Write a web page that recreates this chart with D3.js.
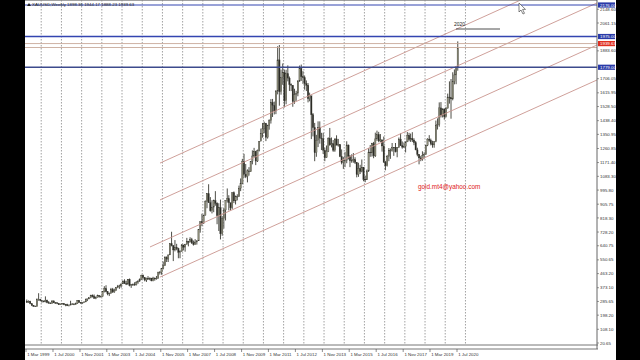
<!DOCTYPE html>
<html>
<head>
<meta charset="utf-8">
<script src="https://cdn.jsdelivr.net/npm/d3@7"></script>
<style>
  body { margin: 0; background: #000; }
  svg { display: block; }
  text { font-family: "Liberation Sans", "DejaVu Sans", sans-serif; }
</style>
</head>
<body>
<div id="chart"></div>
<script>
// Monthly gold candles (Mar 1999 .. Jul 2020)
const firstOpen = 287;

const monthHigh = [
  298,292,290,272,263,259,305,338,302,292,
  292,318,297,288,280,293,292,282,277,274,271,275,
  273,270,271,265,290,274,272,278,294,294,282,281,
  287,304,303,310,328,330,330,318,329,324,323,350,
  383,389,352,342,372,372,367,377,391,392,400,418,
  427,418,428,432,397,400,408,415,420,432,456,457,
  441,437,447,438,435,443,438,448,474,479,497,540,
  574,573,585,654,730,643,677,653,628,612,652,646,
  653,691,672,695,691,674,683,676,746,795,845,839,
  930,976,1033,951,931,935,989,918,912,935,829,881,
  931,1006,963,914,981,987,961,969,1024,1070,1195,1227,
  1162,1128,1142,1180,1249,1265,1246,1254,1308,1388,1424,1432,
  1424,1412,1447,1576,1577,1560,1632,1913,1921,1764,1803,1764,
  1763,1791,1720,1676,1665,1642,1629,1697,1790,1796,1754,1726,
  1695,1678,1617,1586,1487,1424,1348,1434,1434,1361,1361,1267,
  1280,1332,1392,1331,1315,1325,1345,1322,1287,1255,1206,1238,
  1307,1286,1219,1224,1232,1205,1175,1170,1157,1191,1143,1088,
  1127,1263,1283,1297,1303,1362,1375,1367,1353,1318,1337,1182,
  1220,1264,1261,1296,1270,1296,1270,1331,1357,1306,1299,1305,
  1366,1361,1356,1365,1326,1309,1266,1223,1214,1243,1237,1284,
  1326,1346,1324,1310,1306,1439,1453,1555,1557,1517,1516,1525,
  1611,1689,1704,1747,1765,1786,1944
];
const monthLow = [
  278,278,268,256,252,252,252,290,287,278,
  280,280,274,272,270,272,275,270,268,263,263,266,
  262,255,256,254,262,264,262,264,270,276,271,271,
  277,282,288,300,306,311,302,300,311,310,313,316,
  343,344,325,320,336,340,341,354,370,366,373,400,
  398,390,392,382,372,385,386,388,398,410,424,426,
  414,410,423,421,414,414,418,425,433,457,456,490,
  513,537,537,582,637,543,605,612,561,561,603,611,
  603,648,637,664,652,642,646,648,672,724,766,781,
  834,880,914,858,847,855,896,778,735,681,705,750,
  802,916,866,866,874,913,904,930,952,989,1033,1075,
  1072,1045,1088,1111,1160,1204,1155,1175,1242,1311,1330,1358,
  1308,1324,1381,1420,1462,1478,1480,1606,1534,1604,1667,1523,
  1543,1689,1628,1627,1527,1546,1565,1594,1686,1692,1673,1636,
  1627,1555,1562,1321,1338,1180,1208,1270,1292,1251,1226,1180,
  1202,1238,1278,1268,1240,1240,1282,1273,1206,1160,1131,1142,
  1167,1191,1142,1170,1170,1162,1077,1080,1098,1109,1052,1046,
  1062,1111,1208,1209,1199,1207,1310,1301,1302,1241,1171,1122,
  1146,1180,1195,1241,1214,1236,1205,1265,1277,1260,1264,1236,
  1302,1307,1303,1302,1282,1250,1211,1160,1180,1183,1196,1221,
  1276,1303,1281,1266,1266,1301,1382,1400,1459,1459,1445,1459,
  1517,1547,1451,1568,1670,1671,1757
];
const monthClose = [
  279,286,272,261,255,254,299,300,291,288,
  283,293,278,275,272,289,277,277,273,264,270,273,
  265,266,258,263,266,270,265,273,292,279,275,278,
  282,297,302,309,326,318,305,312,324,317,317,347,
  368,348,334,337,364,346,355,375,384,384,397,416,
  400,397,427,388,394,394,391,408,416,428,453,438,
  422,434,428,435,417,435,429,434,473,470,495,513,
  568,556,582,654,643,614,632,623,599,604,646,632,
  650,669,663,679,659,650,665,672,743,794,783,836,
  923,972,916,864,887,928,912,833,884,717,814,869,
  928,942,916,883,979,927,954,955,1008,1040,1180,1097,
  1082,1118,1113,1179,1213,1244,1181,1248,1307,1357,1386,1421,
  1332,1410,1439,1556,1536,1500,1628,1826,1623,1714,1746,1565,
  1738,1710,1669,1664,1561,1604,1614,1691,1772,1719,1712,1675,
  1664,1578,1597,1476,1394,1234,1314,1396,1327,1323,1250,1202,
  1244,1326,1284,1291,1250,1322,1282,1287,1210,1171,1183,1184,
  1283,1213,1183,1184,1190,1172,1095,1134,1115,1142,1065,1061,
  1118,1238,1233,1292,1214,1322,1350,1309,1316,1277,1173,1151,
  1210,1249,1249,1268,1268,1241,1269,1321,1280,1270,1275,1303,
  1345,1318,1325,1315,1298,1252,1224,1201,1192,1215,1222,1282,
  1321,1313,1292,1284,1305,1409,1413,1520,1472,1513,1463,1517,
  1589,1585,1577,1687,1730,1781,1902
];

// right price scale labels (the ones not hidden behind level tags)
const priceTicks = [20.65,108.10,198.20,285.65,373.10,463.20,550.65,640.75,728.20,818.30,
  905.75,995.80,1083.30,1171.40,1260.85,1350.95,1438.40,1528.50,1615.95,1706.05,
  1883.60,2061.15,2148.60];

// time labels every 16 months
const timeLabels = ["1 Mar 1999","1 Jul 2000","1 Nov 2001","1 Mar 2003","1 Jul 2004","1 Nov 2005",
  "1 Mar 2007","1 Jul 2008","1 Nov 2009","1 Mar 2011","1 Jul 2012","1 Nov 2013",
  "1 Mar 2015","1 Jul 2016","1 Nov 2017","1 Mar 2019","1 Jul 2020"];
const gridYears = d3.range(1999, 2021);

// horizontal levels drawn on the chart
const blueLevels = [2176.00, 1975.00, 1779.00];
const tanLevels = [1930, 1905];
const redLabel = { value: 1930, text: "1939.63" };

// channel lines: [startDate, startPrice, endDate, endPrice]
const channels = [
  [new Date(2005, 9, 18), 1168, new Date(2027, 5, 7), 2428],
  [new Date(2005, 9, 18), 933, new Date(2027, 5, 7), 2189],
  [new Date(2005, 3, 20), 633, new Date(2027, 5, 7), 1921],
  [new Date(2005, 9, 18), 441, new Date(2027, 5, 7), 1698]
];

const title = "XAUUSD,Weekly  1898.36 1944.17 1888.23 1939.63";

const W = 640, H = 360;
const left = 25, axisX = 597, plotBottom = 345;

const svg = d3.select("#chart").append("svg")
  .attr("width", W).attr("height", H);

svg.append("rect").attr("x", left).attr("y", 0)
  .attr("width", 616 - left).attr("height", H).attr("fill", "#fff");

const x = d3.scaleTime()
  .domain([new Date(1999, 2, 1), new Date(2020, 6, 1)])
  .range([26, 457]);
const y = d3.scaleLinear()
  .domain([20.65, 2176])
  .range([343, 5]);

svg.append("clipPath").attr("id", "plot")
  .append("rect").attr("x", left).attr("y", 0)
  .attr("width", axisX - left).attr("height", plotBottom);

const plot = svg.append("g").attr("clip-path", "url(#plot)");

// vertical dotted grid
plot.selectAll(".grid")
  .data(gridYears)
  .enter().append("line")
  .attr("x1", d => x(new Date(d, 11, 1)))
  .attr("x2", d => x(new Date(d, 11, 1)))
  .attr("y1", 0).attr("y2", plotBottom)
  .attr("stroke", "#8a8a8a")
  .attr("stroke-width", 0.8)
  .attr("stroke-dasharray", "1.5,1.5");

// candles
const candles = monthClose.map((c, i) => ({
  date: new Date(1999, 2 + i, 15),
  open: i === 0 ? firstOpen : monthClose[i - 1],
  high: monthHigh[i],
  low: monthLow[i],
  close: c
}));

plot.append("g").selectAll("line")
  .data(candles)
  .enter().append("line")
  .attr("x1", d => x(d.date)).attr("x2", d => x(d.date))
  .attr("y1", d => y(d.high)).attr("y2", d => y(d.low))
  .attr("stroke", "#3a3a32").attr("stroke-width", 0.9);

plot.append("g").selectAll("rect")
  .data(candles)
  .enter().append("rect")
  .attr("x", d => x(d.date) - 0.7)
  .attr("width", 1.4)
  .attr("y", d => y(Math.max(d.open, d.close)))
  .attr("height", d => Math.max(0.6, Math.abs(y(d.open) - y(d.close))))
  .attr("fill", d => d.close >= d.open ? "#8c8c78" : "#2a2a24")
  .attr("stroke", "#3a3a32").attr("stroke-width", 0.3);

// channel lines
plot.selectAll(".chan")
  .data(channels)
  .enter().append("line")
  .attr("x1", d => x(d[0])).attr("y1", d => y(d[1]))
  .attr("x2", d => x(d[2])).attr("y2", d => y(d[3]))
  .attr("stroke", "#c9958f").attr("stroke-width", 0.9);

// horizontal levels
plot.selectAll(".tan")
  .data(tanLevels)
  .enter().append("line")
  .attr("x1", left).attr("x2", axisX)
  .attr("y1", d => y(d)).attr("y2", d => y(d))
  .attr("stroke", "#c8a898").attr("stroke-width", 0.9);

plot.selectAll(".blue")
  .data(blueLevels)
  .enter().append("line")
  .attr("x1", left).attr("x2", axisX)
  .attr("y1", d => y(d)).attr("y2", d => y(d))
  .attr("stroke", (d, i) => i === 2 ? "#3c4a8c" : "#3344b0")
  .attr("stroke-width", (d, i) => i === 0 ? 1 : 1.6);

// 2020 marker
svg.append("text").attr("x", 454).attr("y", 26)
  .attr("font-size", 5).attr("fill", "#222").text("2020");
svg.append("line").attr("x1", 456).attr("x2", 500)
  .attr("y1", 29).attr("y2", 29)
  .attr("stroke", "#222").attr("stroke-width", 0.8);

svg.append("text").attr("x", 418).attr("y", 189)
  .attr("font-size", 6.4).attr("fill", "#e01818")
  .text("gold.mt4@yahoo.com");

// frame
svg.append("line").attr("x1", left).attr("x2", axisX).attr("y1", 0.5).attr("y2", 0.5)
  .attr("stroke", "#888").attr("stroke-width", 0.8);
svg.append("line").attr("x1", axisX).attr("x2", axisX).attr("y1", 0).attr("y2", 349)
  .attr("stroke", "#555").attr("stroke-width", 0.9);
[plotBottom, 349].forEach(v => {
  svg.append("line").attr("x1", left).attr("x2", axisX + 1).attr("y1", v).attr("y2", v)
    .attr("stroke", "#666").attr("stroke-width", 0.9);
});

// price axis
const pa = svg.append("g");
pa.selectAll("text")
  .data(priceTicks)
  .enter().append("text")
  .attr("x", 600).attr("y", d => y(d) + 1.6)
  .attr("font-size", 4.4).attr("fill", "#333")
  .text(d => d.toFixed(2));
pa.selectAll("line")
  .data(priceTicks)
  .enter().append("line")
  .attr("x1", axisX).attr("x2", axisX + 2)
  .attr("y1", d => y(d)).attr("y2", d => y(d))
  .attr("stroke", "#555").attr("stroke-width", 0.6);

function tag(value, text, bg) {
  const g = svg.append("g");
  g.append("rect").attr("x", 598).attr("y", y(value) - 2.6)
    .attr("width", 17).attr("height", 5.2).attr("fill", bg);
  g.append("text").attr("x", 600).attr("y", y(value) + 1.6)
    .attr("font-size", 4.4).attr("fill", "#fff").text(text);
}
blueLevels.forEach(v => tag(v, v.toFixed(2), "#2a3aa8"));
tag(redLabel.value, redLabel.text, "#e03020");

// time axis
const ta = svg.append("g");
timeLabels.forEach((t, i) => {
  const d = new Date(1999, 2 + i * 16, 1);
  ta.append("line").attr("x1", x(d)).attr("x2", x(d))
    .attr("y1", 349).attr("y2", 352)
    .attr("stroke", "#444").attr("stroke-width", 0.6);
  ta.append("text").attr("x", x(d) + 1.2).attr("y", 355.5)
    .attr("font-size", 4.4).attr("fill", "#333").text(t);
});

// title
svg.append("path").attr("d", "M27,6 L29,3 L31,6 Z").attr("fill", "#222");
svg.append("text").attr("x", 32).attr("y", 6)
  .attr("font-size", 4.4).attr("fill", "#222").text(title);

// mouse pointer
svg.append("path")
  .attr("d", "M519,3 L519,12 L521,10 L523,14 L524.5,13.3 L522.6,9.4 L525.5,9.4 Z")
  .attr("fill", "#fff").attr("stroke", "#333").attr("stroke-width", 0.6);
</script>
</body>
</html>
